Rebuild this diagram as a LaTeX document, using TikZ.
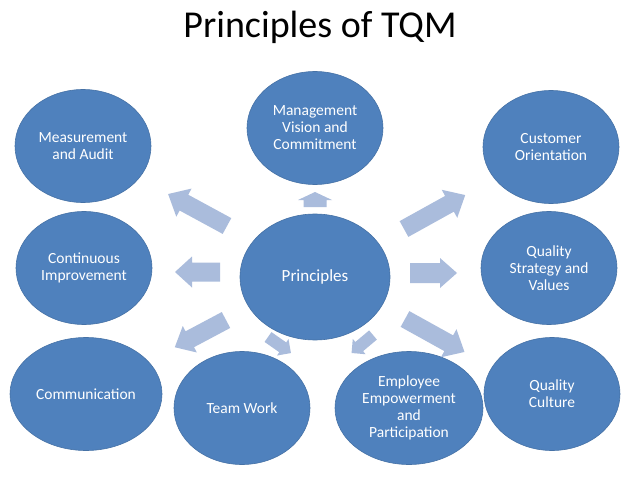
\documentclass[tikz,border=0pt]{standalone}
\usepackage{fontspec}
\setmainfont{Carlito}
\usetikzlibrary{shapes.geometric}
\definecolor{tqmblue}{RGB}{79,129,189}
\definecolor{tqmarrow}{RGB}{170,188,220}
\tikzset{
  pics/barrow/.style n args={4}{code={%
    \fill[tqmarrow] (0,-#2) -- (#1-#4,-#2) -- (#1-#4,-#3) -- (#1,0)
      -- (#1-#4,#3) -- (#1-#4,#2) -- (0,#2) -- cycle;}}
}

\begin{document}
\begin{tikzpicture}[x=1pt, y=-1pt,
  ebox/.style={ellipse, fill=tqmblue, draw=tqmblue!88!black, line width=0.6pt,
               inner sep=0pt, text=white, align=center,
               font=\fontsize{15.5}{17}\selectfont},
  sbox/.style={ebox, minimum width=136pt, minimum height=113pt}
]
\fill[white] (0,0) rectangle (638,479);
\useasboundingbox (0,0) rectangle (638,479);

% Title
\node[anchor=base, font=\fontsize{38}{40}\selectfont] (title) at (320,37) {Principles of TQM};

% Central node
\node[ebox, minimum width=150pt, minimum height=126pt,
      font=\fontsize{17}{20}\selectfont] (prin) at (315,277) {Principles};

% Principle nodes
\node[sbox] (meas) at (83,146)  {Measurement\\and Audit};
\node[sbox] (mgmt) at (315,128) {Management\\Vision and\\Commitment};
\node[sbox] (cust) at (551,147) {Customer\\Orientation};
\node[sbox] (cont) at (84,268)  {Continuous\\Improvement};
\node[sbox] (qsv)  at (549,268) {Quality\\Strategy and\\Values};
\node[sbox, minimum width=152pt] (comm) at (86,394) {Communication};
\node[sbox] (team) at (242,408) {Team Work};
\node[sbox, minimum width=148pt] (emp) at (409,408) {Employee\\Empowerment\\and\\Participation};
\node[sbox] (qcul) at (552,394) {Quality\\Culture};

% Block arrows
\pic[rotate=90]    at (315,207) {barrow={15}{11.5}{17}{8}};
\pic[rotate=151.5] at (227,226) {barrow={67}{9}{16}{18}};
\pic[rotate=180]   at (220,272) {barrow={45}{9.5}{15.5}{17}};
\pic[rotate=208]   at (226,320) {barrow={58}{9}{15}{17}};
\pic[rotate=-35]   at (268,337) {barrow={28}{6}{10}{10}};
\pic[rotate=220]   at (373,335) {barrow={28}{6}{10}{10}};
\pic[rotate=0]     at (410,273) {barrow={47}{10}{15}{17}};
\pic[rotate=29]    at (404,229) {barrow={70}{9}{16}{18}};
\pic[rotate=-29]   at (405,319) {barrow={68}{9}{16}{18}};
\end{tikzpicture}
\end{document}
